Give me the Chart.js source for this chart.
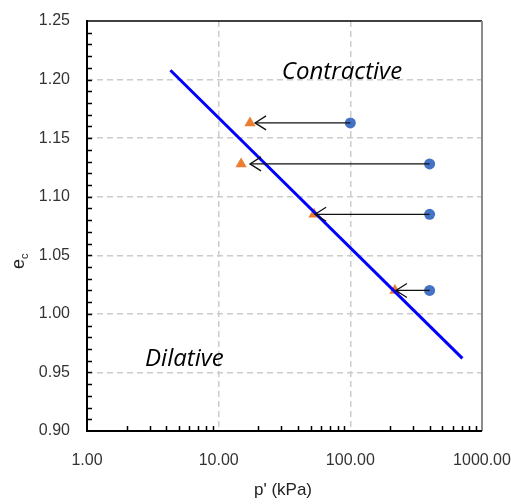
<!DOCTYPE html>
<html>
<head>
<meta charset="utf-8">
<script src="https://cdn.jsdelivr.net/npm/chart.js@4.4.1/dist/chart.umd.min.js"></script>
<style>
html,body{margin:0;padding:0;background:#fff;}
#wrap{width:511px;height:504px;}
</style>
</head>
<body>
<div id="wrap"><canvas id="c" width="511" height="504"></canvas></div>
<script>
// ---- data ----
const cslP = [4.3, 710];            // critical state line p' (kPa)
const cslE = [1.208, 0.962];        // critical state line e
const initialP = [100, 400, 400, 400];   // blue circles
const initialE = [1.163, 1.128, 1.085, 1.020];
const finalP = [17.3, 14.8, 53, 218];     // orange triangles
const finalE = [1.163, 1.128, 1.085, 1.020];
const arrowTipP = [18.9, 17.3, 54, 222];  // arrow tips
const xTicks = [1, 10, 100, 1000];
const yMin = 0.90, yMax = 1.25, yStep = 0.05;
const labels = {contractive: 'Contractive', dilative: 'Dilative', xTitle: "p' (kPa)", yTitle: 'e', ySub: 'c'};
const contractivePos = [30.2, 1.2065];
const dilativePos = [2.76, 0.9615];

const FONT = '"Liberation Sans", Arial, sans-serif';

const decor = {
  id: 'decor',
  beforeDatasetsDraw(chart) {
    const ctx = chart.ctx, a = chart.chartArea;
    const xs = chart.scales.x, ys = chart.scales.y;
    ctx.save();
    // borders
    ctx.strokeStyle = '#000'; ctx.lineWidth = 1.5;
    ctx.beginPath(); ctx.moveTo(a.left, a.top); ctx.lineTo(a.right, a.top); ctx.stroke();
    ctx.strokeStyle = '#8c8c8c'; ctx.lineWidth = 2;
    ctx.beginPath(); ctx.moveTo(a.right, a.top); ctx.lineTo(a.right, a.bottom); ctx.stroke();
    ctx.strokeStyle = '#000'; ctx.lineWidth = 2;
    ctx.beginPath(); ctx.moveTo(a.left, a.top - 1); ctx.lineTo(a.left, a.bottom); ctx.lineTo(a.right, a.bottom); ctx.stroke();
    // minor ticks
    ctx.lineWidth = 1.5;
    ctx.beginPath();
    for (let d = 1; d < 1000; d *= 10) {
      for (let k = 2; k <= 9; k++) {
        const px = Math.round(xs.getPixelForValue(d * k)) + 0.5;
        ctx.moveTo(px, a.bottom); ctx.lineTo(px, a.bottom - 5);
      }
    }
    for (let i = 1; i < 35; i++) {
      const py = Math.round(ys.getPixelForValue(yMin + i * 0.01)) + 0.5;
      ctx.moveTo(a.left, py); ctx.lineTo(a.left + 5, py);
    }
    ctx.stroke();
    // texts
    ctx.fillStyle = '#000';
    ctx.font = 'italic 24px "Open Sans", sans-serif';
    ctx.textBaseline = 'middle'; ctx.textAlign = 'left';
    ctx.fillText(labels.contractive, xs.getPixelForValue(contractivePos[0]) , ys.getPixelForValue(contractivePos[1]));
    ctx.fillText(labels.dilative, xs.getPixelForValue(dilativePos[0]), ys.getPixelForValue(dilativePos[1]));
    // axis titles
    ctx.fillStyle = '#222';
    ctx.font = '17px ' + FONT;
    ctx.textAlign = 'center'; ctx.textBaseline = 'middle';
    ctx.fillText(labels.xTitle, 283, 490);
    ctx.save();
    ctx.translate(20, 262); ctx.rotate(-Math.PI / 2);
    ctx.textAlign = 'left'; ctx.textBaseline = 'alphabetic';
    ctx.font = '18px ' + FONT;
    const w = ctx.measureText(labels.yTitle).width;
    ctx.fillText(labels.yTitle, -7, 4);
    ctx.font = '11px ' + FONT;
    ctx.fillText(labels.ySub, -7 + w, 8);
    ctx.restore();
    ctx.restore();
  },
  afterDatasetsDraw(chart) {
    const ctx = chart.ctx, xs = chart.scales.x, ys = chart.scales.y;
    ctx.save();
    ctx.strokeStyle = '#111'; ctx.lineWidth = 1.3;
    for (let i = 0; i < initialP.length; i++) {
      const x0 = xs.getPixelForValue(initialP[i]);
      const x1 = xs.getPixelForValue(arrowTipP[i]);
      const y = ys.getPixelForValue(initialE[i]);
      ctx.beginPath(); ctx.moveTo(x0, y); ctx.lineTo(x1, y); ctx.stroke();
      ctx.beginPath();
      ctx.moveTo(x1 + 11, y - 7); ctx.lineTo(x1, y); ctx.lineTo(x1 + 11, y + 7);
      ctx.stroke();
    }
    ctx.restore();
  }
};

new Chart(document.getElementById('c'), {
  type: 'scatter',
  data: {
    datasets: [
      { label: 'CSL', data: cslP.map((p, i) => ({x: p, y: cslE[i]})), showLine: true,
        borderColor: '#0000ff', borderWidth: 3, pointRadius: 0, backgroundColor: '#0000ff' },
      { label: 'final', data: finalP.map((p, i) => ({x: p, y: finalE[i]})), pointStyle: 'triangle',
        pointRadius: 6.5, backgroundColor: '#ED7D31', borderColor: '#ED7D31', borderWidth: 0 },
      { label: 'initial', data: initialP.map((p, i) => ({x: p, y: initialE[i]})), pointStyle: 'circle',
        pointRadius: 5.5, backgroundColor: '#4472C4', borderColor: '#4472C4', borderWidth: 0 }
    ]
  },
  options: {
    responsive: false, animation: false,
    layout: { padding: { left: 0, top: 21, right: 29, bottom: 0 } },
    plugins: { legend: { display: false }, tooltip: { enabled: false } },
    scales: {
      x: {
        type: 'logarithmic', min: 1, max: 1000,
        afterBuildTicks(s) { s.ticks = xTicks.map(v => ({ value: v })); },
        afterFit(s) { s.height = 73; s.paddingLeft = 0; s.paddingRight = 0; },
        border: { display: false, dash: [6, 4] },
        grid: {
          drawTicks: false,
          color: ctx => (ctx.tick && (ctx.tick.value === 10 || ctx.tick.value === 100)) ? '#cccccc' : 'rgba(0,0,0,0)',
          lineWidth: 1.5
        },
        ticks: { padding: 20, color: '#333', font: { family: FONT, size: 16 },
          callback: v => Number(v).toFixed(2), autoSkip: false, maxRotation: 0 }
      },
      y: {
        min: yMin, max: yMax,
        afterFit(s) { s.width = 87; s.paddingTop = 0; s.paddingBottom = 0; },
        border: { display: false, dash: [6, 4] },
        grid: {
          drawTicks: false,
          color: ctx => (ctx.tick && ctx.tick.value > yMin + 1e-6 && ctx.tick.value < yMax - 1e-6) ? '#cccccc' : 'rgba(0,0,0,0)',
          lineWidth: 1.5
        },
        ticks: { stepSize: yStep, padding: 17, color: '#333', font: { family: FONT, size: 16 },
          callback: v => Number(v).toFixed(2) }
      }
    }
  },
  plugins: [decor]
});
</script>
</body>
</html>
